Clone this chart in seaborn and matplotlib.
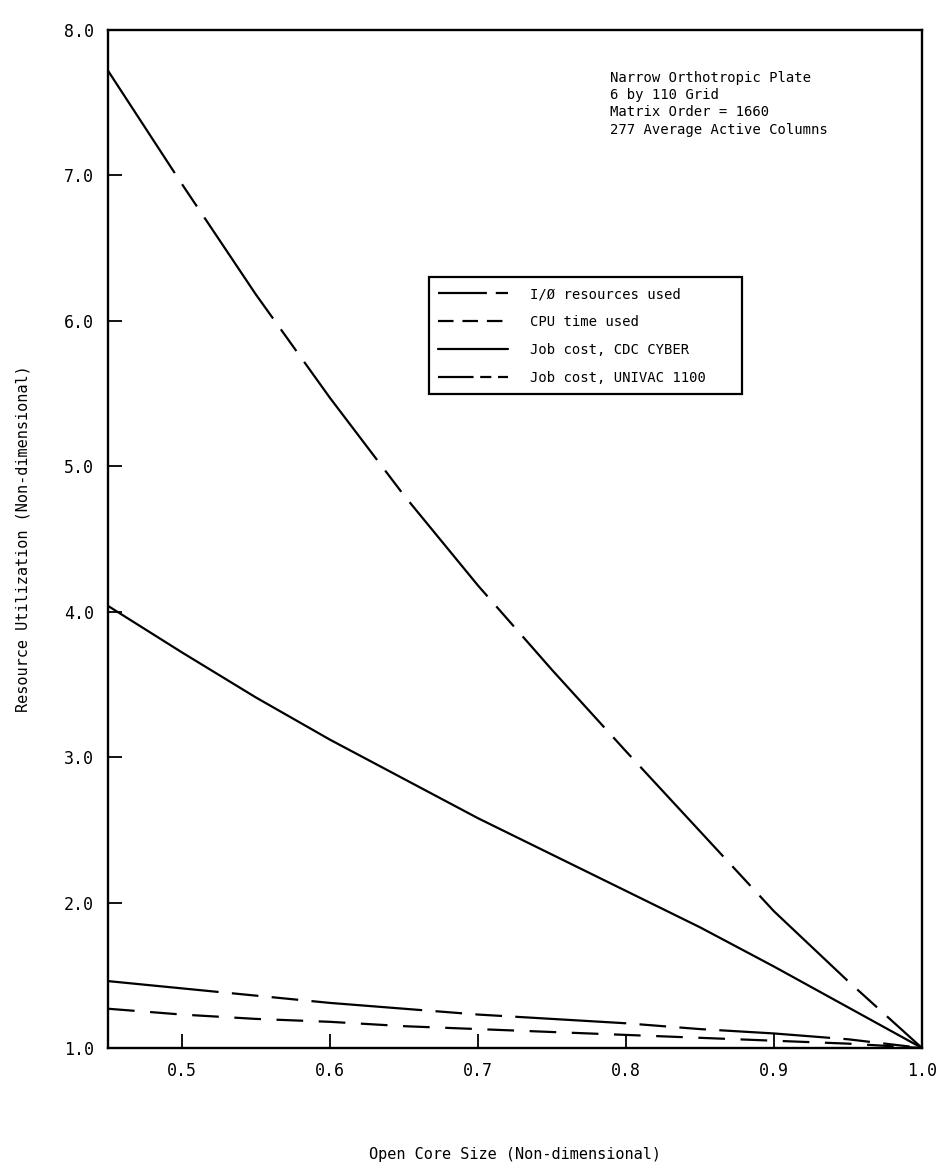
import matplotlib
matplotlib.use("Agg")
import matplotlib.pyplot as plt
import seaborn as sns
import pandas as pd

# ---- data ----
core_size = [0.45, 0.50, 0.55, 0.60, 0.65, 0.70, 0.75, 0.80, 0.85, 0.90, 0.95, 1.00]
io_used = [7.72, 6.94, 6.18, 5.47, 4.80, 4.18, 3.60, 3.04, 2.49, 1.94, 1.46, 1.00]
cpu_used = [1.27, 1.23, 1.20, 1.18, 1.15, 1.13, 1.11, 1.09, 1.07, 1.05, 1.03, 1.00]
cdc_cost = [4.04, 3.72, 3.41, 3.12, 2.85, 2.58, 2.33, 2.08, 1.83, 1.56, 1.28, 1.00]
univac_cost = [1.46, 1.41, 1.36, 1.31, 1.27, 1.23, 1.20, 1.17, 1.13, 1.10, 1.06, 1.00]

series_names = ["I/Ø resources used", "CPU time used", "Job cost, CDC CYBER", "Job cost, UNIVAC 1100"]
series_values = [io_used, cpu_used, cdc_cost, univac_cost]

x_ticks = [0.5, 0.6, 0.7, 0.8, 0.9, 1.0]
x_tick_labels = ["0.5", "0.6", "0.7", "0.8", "0.9", "1.0"]
y_ticks = [1, 2, 3, 4, 5, 6, 7, 8]
y_tick_labels = ["1.0", "2.0", "3.0", "4.0", "5.0", "6.0", "7.0", "8.0"]

note_text = ("Narrow Orthotropic Plate\n6 by 110 Grid\n"
             "Matrix Order = 1660\n277 Average Active Columns")

rows = []
for name, vals in zip(series_names, series_values):
    for x, y in zip(core_size, vals):
        rows.append({"size": x, "value": y, "series": name})
df = pd.DataFrame(rows)

sns.set_style("ticks")
plt.rcParams["font.family"] = ["DejaVu Sans Mono", "DejaVu Sans"]
plt.rcParams["text.color"] = "black"
plt.rcParams["axes.labelcolor"] = "black"

W, H = 949, 1167
fig = plt.figure(figsize=(W / 100, H / 100), dpi=100)
L, R, T, B = 108, 922, 30, 1048
ax = fig.add_axes([L / W, 1 - B / H, (R - L) / W, (B - T) / H])

dash_map = {
    "I/Ø resources used": (55, 6, 12, 6),
    "CPU time used": (12, 7),
    "Job cost, CDC CYBER": "",
    "Job cost, UNIVAC 1100": (50, 6, 12, 6, 12, 6),
}
legend_dashes = {
    "I/Ø resources used": (22, 4, 6, 4),
    "CPU time used": (7, 4),
    "Job cost, CDC CYBER": None,
    "Job cost, UNIVAC 1100": (16, 3, 5, 3, 5, 3),
}
sns.lineplot(data=df, x="size", y="value", hue="series", style="series",
             hue_order=series_names, style_order=series_names,
             palette=["black"] * 4, dashes=dash_map, linewidth=1.6,
             ax=ax, legend=True)

ax.set_xlim(0.45, 1.0)
ax.set_ylim(1.0, 8.0)
ax.set_xticks(x_ticks)
ax.set_xticklabels(x_tick_labels)
ax.set_yticks(y_ticks)
ax.set_yticklabels(y_tick_labels)
ax.tick_params(direction="in", length=10, width=1.3, labelsize=12, colors="black", pad=10)
for s in ax.spines.values():
    s.set_visible(True)
    s.set_linewidth(1.7)
    s.set_color("black")

ax.set_xlabel("Open Core Size (Non-dimensional)", fontsize=11, labelpad=48)
ax.set_ylabel("Resource Utilization (Non-dimensional)", fontsize=11, labelpad=24)

handles, labels = ax.get_legend_handles_labels()
leg = ax.legend(handles, labels, loc="upper left",
                bbox_to_anchor=(0.394, 0.757, 0.385, 0.0), mode="expand",
                fontsize=10, frameon=True, fancybox=False, edgecolor="black",
                framealpha=1, handlelength=5.0, labelspacing=1.0, borderpad=0.7,
                handletextpad=1.6, borderaxespad=0)
leg.get_frame().set_linewidth(1.6)
for t in leg.get_texts():
    t.set_color("black")
for line, lab in zip(leg.get_lines(), labels):
    d = legend_dashes.get(lab)
    if d is not None:
        line.set_dashes(d)

ax.text(0.789, 7.72, note_text, fontsize=10, va="top", ha="left",
        linespacing=1.3, color="black")

fig.savefig("out.png", dpi=100)
